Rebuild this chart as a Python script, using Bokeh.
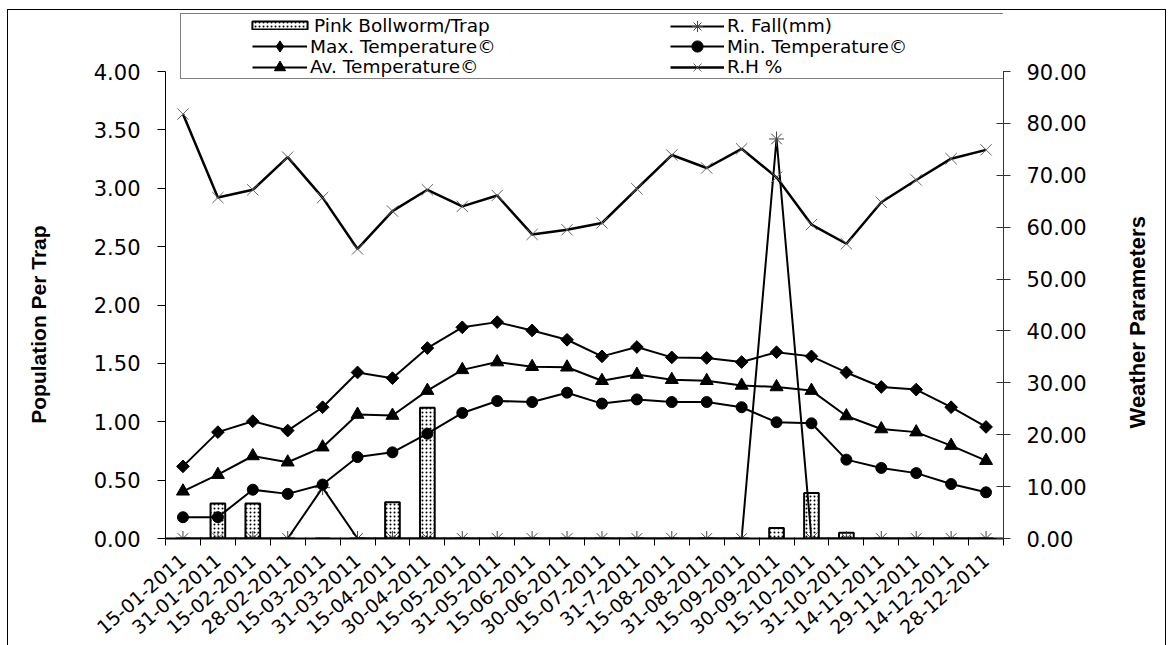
import math
from bokeh.plotting import figure
from bokeh.models import (Range1d, LinearAxis, FixedTicker, NumeralTickFormatter,
                          Legend, LegendItem)
from bokeh.embed import file_html
from bokeh.resources import INLINE

dates = ["15-01-2011", "31-01-2011", "15-02-2011", "28-02-2011", "15-03-2011",
         "31-03-2011", "15-04-2011", "30-04-2011", "15-05-2011", "31-05-2011",
         "15-06-2011", "30-06-2011", "15-07-2011", "31-7-2011", "15-08-2011",
         "31-08-2011", "15-09-2011", "30-09-2011", "15-10-2011", "31-10-2011",
         "14-11-2011", "29-11-2011", "14-12-2011", "28-12-2011"]
pink_bollworm = [0, 0.30, 0.30, 0, 0, 0, 0.31, 1.12, 0, 0, 0, 0, 0, 0, 0, 0, 0,
                 0.09, 0.39, 0.05, 0, 0, 0, 0]
rain_fall = [0, 0, 0, 0, 9.8, 0, 0, 0, 0, 0, 0, 0, 0, 0, 0, 0, 0, 77.0, 0, 0, 0, 0, 0, 0]
max_temp = [13.9, 20.5, 22.6, 20.8, 25.3, 32.0, 30.9, 36.7, 40.7, 41.7, 40.1, 38.3,
            35.1, 36.9, 34.9, 34.8, 34.0, 35.9, 35.1, 32.0, 29.2, 28.7, 25.3, 21.5]
min_temp = [4.1, 4.1, 9.4, 8.6, 10.4, 15.7, 16.6, 20.2, 24.2, 26.5, 26.3, 28.1,
            26.0, 26.8, 26.3, 26.3, 25.3, 22.4, 22.2, 15.2, 13.6, 12.6, 10.5, 8.9]
av_temp = [9.1, 12.3, 15.9, 14.7, 17.6, 23.9, 23.7, 28.5, 32.5, 34.0, 33.1, 33.0,
           30.4, 31.6, 30.6, 30.4, 29.5, 29.2, 28.5, 23.6, 21.1, 20.5, 17.9, 15.0]
rel_humidity = [81.8, 65.7, 67.2, 73.5, 65.7, 55.8, 63.1, 67.2, 64.0, 66.1, 58.6, 59.5,
                60.8, 67.4, 73.9, 71.4, 75.1, 69.6, 60.5, 56.8, 64.8, 69.1, 73.2, 74.9]
left_ticks = [0, 0.5, 1.0, 1.5, 2.0, 2.5, 3.0, 3.5, 4.0]
right_ticks = [0, 10, 20, 30, 40, 50, 60, 70, 80, 90]
LEFT_MAX, RIGHT_MAX = 4.0, 90.0

FONT = "Liberation Sans"
WIDE = "DejaVu Sans"
NB = "\u00a0"
# page geometry (figure placed at page x=8, y=10)
OX, OY = 8, 10
W, H = 1157, 635
FRAME_L, FRAME_R = 165, 1010          # page px
FRAME_TOP, AXIS_TOP, FRAME_B = 11, 71, 538
BL = FRAME_L - OX
BR = (OX + W) - FRAME_R
BT = FRAME_TOP - OY
BB = (OY + H) - FRAME_B
stretch = (FRAME_B - FRAME_TOP) / (FRAME_B - AXIS_TOP)

xs = list(range(len(dates)))

p = figure(width=W, height=H, output_backend="svg", toolbar_location=None,
           x_range=Range1d(-0.5, len(dates) - 0.5), y_range=Range1d(0, LEFT_MAX * stretch),
           min_border_left=BL, min_border_right=BR, min_border_top=BT,
           min_border_bottom=BB, x_axis_type=None, y_axis_type=None)
p.extra_y_ranges = {"w": Range1d(0, RIGHT_MAX * stretch)}
p.xgrid.visible = False
p.ygrid.visible = False
p.outline_line_color = None
p.margin = (OY, 0, 0, OX)
p.styles = {"outline": "1px solid black"}

# axes
xaxis = LinearAxis(ticker=FixedTicker(ticks=xs, minor_ticks=[i - 0.5 for i in range(len(dates) + 1)]),
                   major_label_overrides={i: d for i, d in enumerate(dates)})
xaxis.major_label_orientation = 0.716
xaxis.major_tick_out = 0
xaxis.major_tick_in = 0
xaxis.minor_tick_out = 7
xaxis.minor_tick_in = 1
xaxis.minor_tick_line_color = "black"
xaxis.axis_line_color = "black"
xaxis.axis_line_width = 2
xaxis.major_label_text_font = WIDE
xaxis.major_label_text_font_size = "19px"
xaxis.major_label_text_color = "black"
xaxis.major_label_standoff = 12
p.add_layout(xaxis, "below")

yaxis = LinearAxis(ticker=FixedTicker(ticks=left_ticks), formatter=NumeralTickFormatter(format="0.00"),
                   axis_label="Population Per Trap" + NB * 17, bounds=(0, LEFT_MAX))
yaxis.major_tick_out = 8
yaxis.major_tick_in = 0
yaxis.minor_tick_out = 0
yaxis.minor_tick_in = 0
yaxis.axis_line_color = "black"
yaxis.major_tick_line_color = "black"
yaxis.major_label_text_font = WIDE
yaxis.major_label_text_font_size = "21px"
yaxis.major_label_text_color = "black"
yaxis.major_label_standoff = 17
yaxis.axis_label_text_font = FONT
yaxis.axis_label_text_font_size = "21px"
yaxis.axis_label_text_font_style = "bold"
yaxis.axis_label_text_color = "black"
yaxis.axis_label_standoff = 41
p.add_layout(yaxis, "left")

raxis = LinearAxis(y_range_name="w", ticker=FixedTicker(ticks=right_ticks),
                   formatter=NumeralTickFormatter(format="0.00"),
                   axis_label=NB * 18 + "Weather Parameters", bounds=(0, RIGHT_MAX))
raxis.major_tick_out = 7
raxis.major_tick_in = 7
raxis.minor_tick_out = 0
raxis.minor_tick_in = 0
raxis.axis_line_color = "#333333"
raxis.major_tick_line_color = "#333333"
raxis.major_label_text_font = WIDE
raxis.major_label_text_font_size = "21px"
raxis.major_label_text_color = "black"
raxis.major_label_standoff = 16
raxis.major_label_orientation = "horizontal"
raxis.axis_label_orientation = math.pi / 2
raxis.axis_label_align = "start"
raxis.axis_label_text_font = FONT
raxis.axis_label_text_font_size = "22px"
raxis.axis_label_text_font_style = "bold"
raxis.axis_label_text_color = "black"
raxis.axis_label_standoff = 48
p.add_layout(raxis, "right")

# data
bars = p.vbar(x=xs, top=pink_bollworm, width=0.42, fill_color="white", line_color="black",
              line_width=2, hatch_pattern=".", hatch_color="black", hatch_scale=4, hatch_weight=1)

r_rain_l = p.line(xs, rain_fall, y_range_name="w", line_color="black", line_width=2)
r_rain_m = p.scatter(xs, rain_fall, y_range_name="w", marker="asterisk", size=15,
                     line_color="#444444", line_width=1)
r_max_l = p.line(xs, max_temp, y_range_name="w", line_color="black", line_width=2)
r_max_m = p.scatter(xs, max_temp, y_range_name="w", marker="square", angle=math.pi / 4, size=9,
                    fill_color="black", line_color="black")
r_min_l = p.line(xs, min_temp, y_range_name="w", line_color="black", line_width=2)
r_min_m = p.scatter(xs, min_temp, y_range_name="w", marker="circle", size=11,
                    fill_color="black", line_color="black")
r_av_l = p.line(xs, av_temp, y_range_name="w", line_color="black", line_width=2)
r_av_m = p.scatter(xs, av_temp, y_range_name="w", marker="triangle", size=13,
                   fill_color="black", line_color="black")
r_rh_l = p.line(xs, rel_humidity, y_range_name="w", line_color="black", line_width=2.5)
r_rh_m = p.scatter(xs, rel_humidity, y_range_name="w", marker="x", size=16,
                   line_color="#666666", line_width=1)

# legend-only helpers (placed outside the visible ranges)
dummy = p.scatter(x=[0], y=[-10], size=1, alpha=0)
max_key = p.scatter(x=[0], y=[-10], marker="diamond", fill_color="black", line_color="black")


def place(page_x, page_bottom):
    return (page_x - FRAME_L, FRAME_B - page_bottom)


BOX_L, BOX_R, BOX_T, BOX_B = 180, 1009, 15, 79
box = Legend(items=[LegendItem(label=" ", renderers=[dummy])], location=place(BOX_L, BOX_B),
             padding=0, margin=0, spacing=0, glyph_width=10, glyph_height=BOX_B - BOX_T,
             label_height=BOX_B - BOX_T, label_width=BOX_R - BOX_L - 10, label_standoff=0,
             border_line_color="black", border_line_width=1, background_fill_color="white",
             background_fill_alpha=1)
p.add_layout(box, "center")


def item(label, rs, gx, cy, gw=55, gh=28, lh=28, standoff=3):
    h = max(gh, lh)
    lg = Legend(items=[LegendItem(label=label, renderers=rs)], location=place(gx, cy + h / 2),
                padding=0, margin=0, spacing=0, glyph_width=gw, glyph_height=gh,
                label_height=lh, label_standoff=standoff, border_line_color=None,
                background_fill_alpha=0, label_text_font=WIDE, label_text_font_size="18.5px",
                label_text_color="black")
    p.add_layout(lg, "center")


rows = [25.5, 46, 66.5]
item("Pink Bollworm/Trap", [bars], 245, rows[0], gw=69, gh=10, lh=20, standoff=0)
item("Max. Temperature©", [r_max_l, max_key], 252, rows[1])
item("Av. Temperature©", [r_av_l, r_av_m], 252, rows[2])
item("R. Fall(mm)", [r_rain_l, r_rain_m], 670, rows[0], gw=54)
item("Min. Temperature©", [r_min_l, r_min_m], 670, rows[1], gw=54)
item("R.H %", [r_rh_l, r_rh_m], 670, rows[2], gw=54)

open("out.html", "w").write(file_html(p, INLINE))
